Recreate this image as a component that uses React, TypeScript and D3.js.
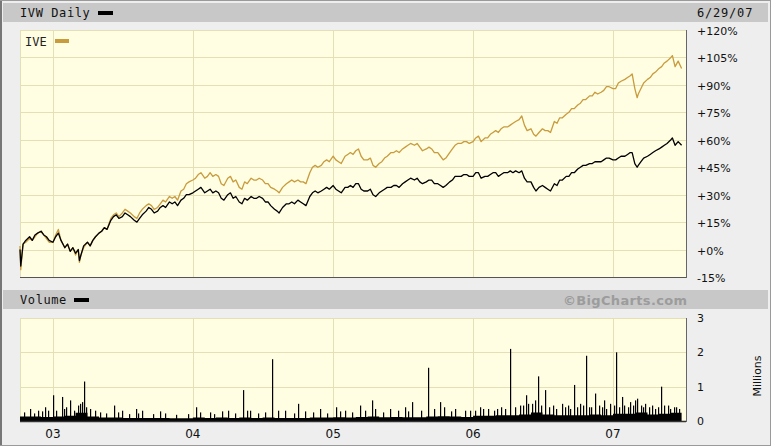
import React from "react";
import * as d3 from "d3";

const dates = [
  "2002-10-07","2002-10-09","2002-10-15","2002-10-22",
  "2002-11-01","2002-11-08","2002-11-15","2002-11-22",
  "2002-12-01","2002-12-08","2002-12-15","2002-12-22",
  "2003-01-01","2003-01-08","2003-01-15","2003-01-22",
  "2003-02-01","2003-02-08","2003-02-15","2003-02-22",
  "2003-03-01","2003-03-08","2003-03-11","2003-03-15","2003-03-22",
  "2003-04-01","2003-04-08","2003-04-15","2003-04-22",
  "2003-05-01","2003-05-08","2003-05-15","2003-05-22",
  "2003-06-01","2003-06-08","2003-06-15","2003-06-22",
  "2003-07-01","2003-07-08","2003-07-15","2003-07-22",
  "2003-08-01","2003-08-08","2003-08-15","2003-08-22",
  "2003-09-01","2003-09-08","2003-09-15","2003-09-22",
  "2003-10-01","2003-10-08","2003-10-15","2003-10-22",
  "2003-11-01","2003-11-08","2003-11-15","2003-11-22",
  "2003-12-01","2003-12-08","2003-12-15","2003-12-22",
  "2004-01-01","2004-01-08","2004-01-15","2004-01-22",
  "2004-02-01","2004-02-08","2004-02-15","2004-02-22",
  "2004-03-01","2004-03-08","2004-03-15","2004-03-22",
  "2004-04-01","2004-04-08","2004-04-15","2004-04-22",
  "2004-05-01","2004-05-08","2004-05-15","2004-05-22",
  "2004-06-01","2004-06-08","2004-06-15","2004-06-22",
  "2004-07-01","2004-07-08","2004-07-15","2004-07-22",
  "2004-08-01","2004-08-08","2004-08-13","2004-08-22",
  "2004-09-01","2004-09-08","2004-09-15","2004-09-22",
  "2004-10-01","2004-10-08","2004-10-15","2004-10-22",
  "2004-11-01","2004-11-08","2004-11-15","2004-11-22",
  "2004-12-01","2004-12-08","2004-12-15","2004-12-22",
  "2005-01-01","2005-01-08","2005-01-15","2005-01-22",
  "2005-02-01","2005-02-08","2005-02-15","2005-02-22",
  "2005-03-01","2005-03-08","2005-03-15","2005-03-22",
  "2005-04-01","2005-04-08","2005-04-15","2005-04-22",
  "2005-05-01","2005-05-08","2005-05-15","2005-05-22",
  "2005-06-01","2005-06-08","2005-06-15","2005-06-22",
  "2005-07-01","2005-07-08","2005-07-15","2005-07-22",
  "2005-08-01","2005-08-08","2005-08-15","2005-08-22",
  "2005-09-01","2005-09-08","2005-09-15","2005-09-22",
  "2005-10-01","2005-10-08","2005-10-15","2005-10-22",
  "2005-11-01","2005-11-08","2005-11-15","2005-11-22",
  "2005-12-01","2005-12-08","2005-12-15","2005-12-22",
  "2006-01-01","2006-01-08","2006-01-15","2006-01-22",
  "2006-02-01","2006-02-08","2006-02-15","2006-02-22",
  "2006-03-01","2006-03-08","2006-03-15","2006-03-22",
  "2006-04-01","2006-04-08","2006-04-15","2006-04-22",
  "2006-05-01","2006-05-08","2006-05-15","2006-05-22",
  "2006-06-01","2006-06-08","2006-06-14","2006-06-22",
  "2006-07-01","2006-07-08","2006-07-15","2006-07-22",
  "2006-08-01","2006-08-08","2006-08-15","2006-08-22",
  "2006-09-01","2006-09-08","2006-09-15","2006-09-22",
  "2006-10-01","2006-10-08","2006-10-15","2006-10-22",
  "2006-11-01","2006-11-08","2006-11-15","2006-11-22",
  "2006-12-01","2006-12-08","2006-12-15","2006-12-22",
  "2007-01-01","2007-01-08","2007-01-15","2007-01-22",
  "2007-02-01","2007-02-08","2007-02-15","2007-02-20","2007-02-27",
  "2007-03-05","2007-03-08","2007-03-15","2007-03-22",
  "2007-04-01","2007-04-08","2007-04-15","2007-04-22",
  "2007-05-01","2007-05-08","2007-05-15","2007-05-22",
  "2007-06-01","2007-06-05","2007-06-12","2007-06-20","2007-06-29"
];

const ivw = [
  0,-9,3,5, 7,5,8,9, 10,8,7,5,
  4,7,9,5, 1,3,-1,1, -2,0,-6,-3,2, 4,2,5,7, 9,10,12,11, 16,18,19,17,
  18,20,19,18, 16,15,17,19, 21,23,22,20, 21,23,24,23, 26,25,26,24, 27,28,30,30,
  31,32,33,34, 31,32,33,31, 32,31,28,27, 30,31,28,29, 26,25,28,27, 29,28,28,29,
  28,26,26,24, 22,21,20,23, 25,25,26,25, 27,26,25,24, 29,31,32,31, 32,33,34,33,
  35,33,32,31, 34,34,35,34, 36,36,33,32, 32,33,30,29, 31,32,33,34, 34,35,35,34,
  36,37,38,39, 38,39,37,36, 37,38,38,36, 36,35,34,35, 37,38,40,40, 40,41,41,40,
  40,42,42,39, 40,40,41,42, 42,40,41,42, 42,43,42,43, 42,43,39,37, 37,34,32,34,
  35,34,33,32, 36,35,38,38, 40,40,42,42, 44,45,46,46, 47,47,48,48, 48,49,50,50,
  49,49,50,51, 51,52,53,53,47, 45,46,48,50, 51,52,53,54, 55,56,57,58, 60,61,57,59,57
];

const ive = [
  2,-11,3,4, 6,5,7,9, 10,8,6,4,
  4,8,11,5, 1,3,-1,1, -3,0,-7,-3,1, 4,2,5,7, 9,10,12,11, 17,19,20,18,
  20,22,21,20, 18,17,20,22, 24,25,24,22, 23,25,27,26, 29,28,29,27, 32,33,36,37,
  38,39,41,42, 39,40,42,40, 41,40,36,35, 39,40,37,38, 34,33,37,36, 39,38,38,39,
  38,36,36,34, 33,32,31,34, 36,37,38,37, 38,37,37,36, 42,45,46,45, 46,48,49,48,
  51,49,48,47, 51,52,53,52, 54,55,51,49, 49,50,46,45, 47,48,50,51, 53,53,54,53,
  55,56,57,58, 57,58,56,54, 55,56,55,53, 53,51,49,50, 53,55,57,58, 58,59,59,58,
  59,61,62,59, 61,61,63,64, 65,64,66,67, 67,68,69,70, 71,73,68,65, 66,63,62,64,
  66,65,65,64, 70,69,72,72, 74,75,77,77, 79,80,82,82, 84,84,86,85, 86,87,89,89,
  88,88,91,92, 93,94,95,96,88, 83,85,88,91, 93,94,96,97, 99,100,102,103, 105,106,100,103,99
];

const volBaseDates = [
  "2002-10-07","2002-11-01","2002-12-01","2003-01-01","2003-02-01","2003-03-01","2003-04-01","2003-05-01","2003-06-01","2003-07-01","2003-08-01","2003-09-01","2003-10-01","2003-11-01","2003-12-01",
  "2004-01-01","2004-02-01","2004-03-01","2004-04-01","2004-05-01","2004-06-01","2004-07-01","2004-08-01","2004-09-01","2004-10-01","2004-11-01","2004-12-01",
  "2005-01-01","2005-02-01","2005-03-01","2005-04-01","2005-05-01","2005-06-01","2005-07-01","2005-08-01","2005-09-01","2005-10-01","2005-11-01","2005-12-01",
  "2006-01-01","2006-02-01","2006-03-01","2006-04-01","2006-05-01","2006-06-01","2006-07-01","2006-08-01","2006-09-01","2006-10-01","2006-11-01","2006-12-01",
  "2007-01-01","2007-02-01","2007-03-01","2007-04-01","2007-05-01","2007-06-01","2007-06-29"
];
const volBase = [
  0.13,0.13,0.12,0.13,0.15,0.24,0.13,0.1,0.1,0.09,0.09,0.09,0.09,0.08,0.08,
  0.1,0.09,0.1,0.09,0.1,0.09,0.1,0.09,0.09,0.09,0.1,0.1,
  0.11,0.1,0.12,0.13,0.11,0.12,0.11,0.11,0.13,0.14,0.13,0.12,
  0.15,0.15,0.17,0.17,0.19,0.25,0.19,0.17,0.17,0.17,0.19,0.17,
  0.21,0.21,0.25,0.19,0.21,0.24,0.21
];

const spikeDates = [
  "2002-11-02","2002-11-23","2002-12-11","2003-01-02","2003-01-24","2003-02-14","2003-03-07","2003-03-23","2003-04-08","2003-05-04","2003-06-09","2003-06-30","2003-08-06","2003-08-21","2003-10-07",
  "2004-01-09","2004-02-15","2004-04-02","2004-05-11","2004-05-29","2004-07-25","2004-08-28","2004-10-01","2004-11-28",
  "2005-01-08","2005-02-01","2005-03-12","2005-04-12","2005-05-29","2005-07-07","2005-07-26","2005-09-05","2005-10-07","2005-11-15","2005-12-24",
  "2006-01-19","2006-03-04","2006-04-07","2006-05-03","2006-05-19","2006-06-04","2006-06-19","2006-07-08","2006-07-28","2006-08-21","2006-09-06","2006-09-21","2006-10-07","2006-10-23","2006-11-15","2006-12-09","2006-12-24",
  "2007-01-09","2007-01-24","2007-02-14","2007-03-05","2007-03-25","2007-04-13","2007-05-06","2007-05-24","2007-06-14"
];
const spikeVols = [
  0.35,0.3,0.4,0.75,0.7,0.6,0.45,1.15,0.35,0.25,0.45,0.3,0.35,0.3,0.28,
  0.4,0.25,0.3,0.9,0.3,1.8,0.3,0.5,0.35,
  0.4,0.3,0.45,0.6,0.35,0.4,0.55,1.55,0.55,0.35,0.3,
  0.4,0.35,2.1,0.45,0.75,0.5,1.3,0.9,0.45,0.5,0.45,1.05,0.5,1.9,0.8,0.6,0.5,
  2.0,0.7,0.55,0.65,0.5,0.45,1.0,0.45,0.4
];

const minorDates = [
  "2002-10-18","2002-11-12","2002-12-03","2002-12-20",
  "2003-01-10","2003-01-30","2003-02-05","2003-02-25","2003-03-12","2003-03-18","2003-03-28","2003-04-20","2003-05-20","2003-06-20","2003-07-18","2003-08-12","2003-09-18","2003-10-20","2003-11-18","2003-12-18",
  "2004-01-20","2004-02-25","2004-03-18","2004-04-20","2004-05-20","2004-06-18","2004-07-08","2004-08-10","2004-09-20","2004-10-20","2004-11-10","2004-12-15",
  "2005-01-20","2005-02-18","2005-03-25","2005-04-20","2005-05-10","2005-06-20","2005-07-15","2005-08-18","2005-09-20","2005-10-18","2005-11-05","2005-12-10",
  "2006-01-05","2006-01-28","2006-02-10","2006-02-25","2006-03-15","2006-03-25","2006-04-20","2006-05-10","2006-05-25","2006-06-12","2006-06-28","2006-07-18","2006-08-05","2006-08-30","2006-09-12","2006-09-28","2006-10-15","2006-10-30","2006-11-05","2006-11-25","2006-12-03","2006-12-15",
  "2007-01-03","2007-01-17","2007-01-30","2007-02-08","2007-02-22","2007-02-28","2007-03-14","2007-03-20","2007-04-05","2007-04-20","2007-04-28","2007-05-15","2007-05-30","2007-06-08","2007-06-22"
];
const minorVols = [
  0.25,0.22,0.28,0.3,
  0.3,0.35,0.4,0.3,0.5,0.55,0.4,0.3,0.22,0.25,0.2,0.22,0.2,0.22,0.18,0.2,
  0.25,0.2,0.28,0.22,0.3,0.22,0.25,0.3,0.22,0.28,0.25,0.22,
  0.28,0.25,0.3,0.35,0.25,0.3,0.28,0.3,0.35,0.4,0.28,0.3,
  0.3,0.35,0.35,0.3,0.4,0.35,0.4,0.45,0.5,0.6,0.45,0.4,0.35,0.4,0.35,0.4,0.45,0.4,0.4,0.45,0.4,0.35,
  0.45,0.4,0.45,0.4,0.45,0.6,0.45,0.4,0.4,0.35,0.4,0.45,0.35,0.4,0.35
];

const pctTicks = [120,105,90,75,60,45,30,15,0,-15];
const volTicks = [0,1,2,3];
const yearTicks = ["2003-01-01","2004-01-01","2005-01-01","2006-01-01","2007-01-01"];
const yearLabels = ["03","04","05","06","07"];

const parse = d3.utcParse("%Y-%m-%d");

export default function App() {
  const W = 771, H = 446;
  const pL = 20, pR = 686;
  const x = d3.scaleUtc().domain([parse("2002-10-07")!, parse("2007-06-29")!]).range([20, 681.6]);
  const y = d3.scaleLinear().domain([-15, 120]).range([277, 30]);
  const yv = d3.scaleLinear().domain([0, 3]).range([421, 318]);

  const pts = dates.map((d, i) => ({ d: parse(d)!, a: ivw[i], b: ive[i] }));
  const lineA = d3.line<any>().x(p => x(p.d)).y(p => y(p.a));
  const lineB = d3.line<any>().x(p => x(p.d)).y(p => y(p.b));
  const base = volBaseDates.map((d, i) => ({ d: parse(d)!, v: volBase[i] }));
  const area = d3.area<any>().x(p => x(p.d)).y0(yv(0)).y1(p => yv(p.v)).curve(d3.curveStepAfter);
  const spikes = spikeDates.map((d, i) => ({ d: parse(d)!, v: spikeVols[i] }))
    .concat(minorDates.map((d, i) => ({ d: parse(d)!, v: minorVols[i] })));

  const grid = "#e4dfb4";
  const plotBg = "#fffde2";
  const mono = "'DejaVu Sans Mono', monospace";
  const sans = "'DejaVu Sans', sans-serif";

  return (
    <svg width={W} height={H} style={{ position: "fixed", left: 0, top: 0, background: "#eeeeee" }}>
      <rect x={0} y={0} width={W} height={H} fill="#eeeeee" />
      <rect x={0.5} y={0.5} width={W - 1} height={H - 1} fill="none" stroke="#9a9a9a" />
      <line x1={1} y1={1} x2={1} y2={H - 1} stroke="#777" strokeWidth={2} />
      <rect x={3} y={3} width={W - 6} height={19} fill="#c8c8c8" />
      <text x={20} y={17} fontFamily={mono} fontSize={12} letterSpacing={0.6} fill="#111">IVW Daily</text>
      <rect x={98} y={11} width={15} height={4} fill="#000" />
      <text x={697} y={17} fontFamily={mono} fontSize={12} letterSpacing={0.8} fill="#111">6/29/07</text>

      <rect x={pL} y={30} width={pR - pL} height={247} fill={plotBg} />
      {pctTicks.map(t => (
        <line key={t} x1={pL} x2={pR} y1={Math.round(y(t)) + 0.5} y2={Math.round(y(t)) + 0.5} stroke={grid} />
      ))}
      {yearTicks.map(t => (
        <line key={t} x1={Math.round(x(parse(t)!)) + 0.5} x2={Math.round(x(parse(t)!)) + 0.5} y1={30} y2={277} stroke={grid} />
      ))}
      <line x1={pL + 0.5} x2={pL + 0.5} y1={30} y2={277} stroke={grid} />
      <line x1={pL} x2={pR} y1={30.5} y2={30.5} stroke={grid} />
      <path d={lineB(pts)!} fill="none" stroke="#c89b3c" strokeWidth={1.3} strokeLinejoin="round" />
      <path d={lineA(pts)!} fill="none" stroke="#000" strokeWidth={1.3} strokeLinejoin="round" />
      <line x1={pL} x2={pR} y1={277.5} y2={277.5} stroke="#555" />
      <line x1={pR + 0.5} x2={pR + 0.5} y1={30} y2={278} stroke="#666" />
      <text x={25} y={46} fontFamily={mono} fontSize={12} fill="#222">IVE</text>
      <rect x={55} y={39} width={14} height={4} fill="#c89b3c" />
      {pctTicks.map(t => (
        <text key={t} x={697} y={y(t) + 5} fontFamily={sans} fontSize={11} fill="#111">
          {(t >= 0 ? "+" : "-") + Math.abs(t) + "%"}
        </text>
      ))}

      <rect x={3} y={290} width={W - 6} height={19} fill="#c8c8c8" />
      <text x={20} y={304} fontFamily={mono} fontSize={12} letterSpacing={0.6} fill="#111">Volume</text>
      <rect x={74} y={298} width={15} height={4} fill="#000" />
      <text x={563} y={305} fontFamily={sans} fontWeight="bold" fontSize={13} textLength={124} fill="#9c9c9c">©BigCharts.com</text>

      <rect x={pL} y={318} width={pR - pL} height={103} fill={plotBg} />
      {volTicks.map(t => (
        <line key={t} x1={pL} x2={pR} y1={Math.round(yv(t)) + 0.5} y2={Math.round(yv(t)) + 0.5} stroke={grid} />
      ))}
      {yearTicks.map(t => (
        <line key={t} x1={Math.round(x(parse(t)!)) + 0.5} x2={Math.round(x(parse(t)!)) + 0.5} y1={318} y2={421} stroke={grid} />
      ))}
      <line x1={pL + 0.5} x2={pL + 0.5} y1={318} y2={421} stroke={grid} />
      <path d={area(base)!} fill="#000" />
      {spikes.map((s, i) => (
        <rect key={i} x={Math.round(x(s.d))} y={yv(s.v)} width={1.2} height={yv(0) - yv(s.v)} fill="#000" />
      ))}
      <line x1={pL} x2={pR} y1={421.5} y2={421.5} stroke="#333" strokeWidth={1.5} />
      <line x1={pR + 0.5} x2={pR + 0.5} y1={318} y2={422} stroke="#666" />
      {volTicks.map(t => (
        <text key={t} x={697} y={yv(t) + 4} fontFamily={sans} fontSize={11} fill="#111">{t}</text>
      ))}
      <text transform="translate(761,376) rotate(-90)" textAnchor="middle" fontFamily={sans} fontSize={11} fill="#111">Millions</text>

      {yearTicks.map((t, i) => (
        <text key={t} x={x(parse(t)!)} y={438} textAnchor="middle" fontFamily={sans} fontSize={12} fill="#111">{yearLabels[i]}</text>
      ))}
    </svg>
  );
}
